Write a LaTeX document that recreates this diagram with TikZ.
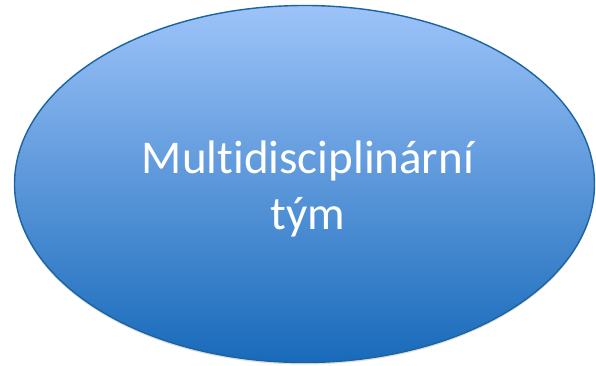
\documentclass[tikz,border=0pt]{standalone}
\usepackage{fontspec}
\setmainfont{Carlito}[Ligatures=NoCommon]
\usepackage{tikz}
\usetikzlibrary{shapes,shadows}
\definecolor{teamtop}{RGB}{157,195,249}
\definecolor{teambottom}{RGB}{24,106,186}
\definecolor{teamline}{RGB}{26,100,160}
\tikzset{x=1pt,y=1pt}
\tikzset{teamshape/.style={ellipse, draw=teamline, line width=1.4pt,
  top color=teamtop, bottom color=teambottom,
  minimum width=580pt, minimum height=357pt, inner sep=0pt,
  drop shadow={opacity=0.25, shadow xshift=0pt, shadow yshift=-2pt}}}
\tikzset{teamtext/.style={text=white, align=center, font=\fontsize{47}{56}\selectfont}}

\begin{document}
\begin{tikzpicture}

% Frame
\useasboundingbox (0,0) rectangle (596,-366);

% Ellipse
\node[teamshape] (team) at (304.5,-184) {};

% Label
\node[teamtext] (label) at (308,-189) {Multidisciplinární\\tým};

\end{tikzpicture}
\end{document}
